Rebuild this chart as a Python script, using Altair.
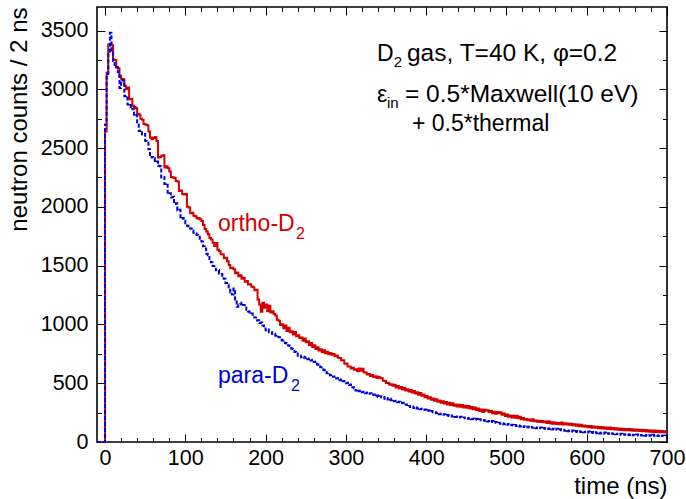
import altair as alt
import pandas as pd

# ---- data: neutron counts per 2 ns bin, bins starting at 0, 2, ..., 698 ns ----
bin_starts = list(range(0, 700, 2))

ortho_counts = [
    2640, 3140, 3380, 3385, 3375, 3254, 3250, 3190, 3180, 3115,
    3090, 3085, 3030, 3000, 3015, 2915, 2920, 2860, 2850, 2840,
    2790, 2785, 2750, 2740, 2705, 2700, 2695, 2640, 2590, 2575,
    2585, 2595, 2560, 2420, 2425, 2435, 2440, 2335, 2345, 2330,
    2300, 2255, 2250, 2245, 2220, 2215, 2135, 2140, 2110, 2105,
    2110, 2000, 1995, 1945, 1950, 1925, 1920, 1900, 1905, 1895,
    1880, 1845, 1812, 1790, 1768, 1735, 1722, 1695, 1668, 1692,
    1636, 1622, 1598, 1595, 1562, 1568, 1538, 1505, 1478, 1482,
    1470, 1436, 1442, 1410, 1418, 1388, 1398, 1362, 1370, 1340,
    1342, 1322, 1316, 1290, 1296, 1212, 1170, 1108, 1185, 1142,
    1170, 1112, 1158, 1102, 1112, 1088, 1076, 1040, 1032, 995,
    1002, 968, 990, 945, 972, 934, 942, 914, 936, 900,
    908, 884, 888, 862, 880, 848, 858, 822, 842, 808,
    822, 790, 806, 778, 788, 764, 780, 754, 768, 746,
    758, 742, 748, 730, 736, 716, 714, 696, 696, 666,
    668, 642, 642, 626, 632, 614, 618, 602, 626, 606,
    622, 594, 592, 574, 578, 561, 569, 552, 559, 544,
    556, 546, 543, 520, 519, 501, 504, 488, 492, 478,
    487, 464, 476, 456, 468, 447, 461, 438, 448, 430,
    443, 422, 433, 412, 423, 402, 416, 393, 403, 381,
    391, 370, 381, 360, 371, 350, 364, 342, 354, 334,
    346, 328, 340, 320, 334, 314, 329, 308, 320, 302,
    317, 299, 314, 294, 309, 292, 307, 286, 298, 279,
    293, 272, 284, 264, 276, 256, 275, 265, 270, 255,
    264, 244, 258, 240, 255, 245, 253, 232, 243, 222,
    234, 214, 226, 208, 224, 206, 224, 202, 214, 194,
    205, 190, 196, 184, 191, 180, 194, 176, 183, 172,
    181, 170, 179, 168, 174, 162, 176, 158, 168, 156,
    166, 154, 162, 151, 165, 148, 160, 149, 158, 146,
    155, 143, 151, 138, 148, 134, 146, 131, 141, 129,
    137, 126, 136, 122, 131, 121, 130, 117, 128, 115,
    125, 113, 123, 111, 124, 108, 119, 107, 117, 104,
    114, 102, 113, 101, 111, 99, 110, 97, 109, 96,
    107, 95, 105, 93, 104, 91, 102, 89, 100, 88,
    98, 86, 97, 84, 96, 83, 94, 82, 92, 80,
]

para_counts = [
    2700, 3130, 3300, 3480, 3330, 3240, 3185, 3190, 3145, 3010,
    3080, 3075, 2940, 2945, 2870, 2875, 2830, 2835, 2775, 2780,
    2700, 2645, 2650, 2615, 2620, 2560, 2555, 2490, 2420, 2425,
    2415, 2380, 2385, 2350, 2345, 2250, 2255, 2195, 2200, 2110,
    2115, 2080, 2085, 2025, 2030, 1970, 1975, 1900, 1905, 1880,
    1860, 1840, 1830, 1815, 1800, 1780, 1775, 1760, 1745, 1720,
    1705, 1664, 1646, 1602, 1588, 1534, 1528, 1498, 1496, 1460,
    1462, 1432, 1428, 1392, 1388, 1352, 1338, 1294, 1272, 1255,
    1305, 1210, 1150, 1166, 1172, 1185, 1165, 1145, 1114, 1110,
    1090, 1092, 1062, 1060, 1034, 1036, 1012, 1016, 990, 984,
    950, 956, 934, 936, 920, 922, 904, 906, 892, 890,
    864, 862, 842, 838, 820, 816, 794, 790, 766, 762,
    734, 736, 720, 726, 716, 720, 704, 710, 694, 700,
    680, 684, 660, 656, 636, 636, 610, 606, 584, 586,
    568, 570, 554, 558, 540, 545, 526, 533, 516, 518,
    500, 503, 484, 490, 465, 458, 438, 446, 432, 438,
    424, 428, 414, 422, 410, 414, 400, 404, 390, 396,
    383, 390, 378, 382, 368, 374, 362, 370, 355, 359,
    346, 350, 338, 342, 330, 334, 318, 320, 304, 307,
    297, 303, 290, 296, 285, 289, 278, 282, 272, 276,
    264, 270, 257, 263, 253, 255, 245, 249, 237, 241,
    231, 236, 226, 230, 221, 225, 217, 221, 213, 217,
    208, 214, 205, 209, 201, 205, 197, 201, 193, 197,
    190, 197, 186, 193, 184, 188, 180, 184, 175, 179,
    170, 178, 164, 171, 161, 163, 155, 159, 151, 155,
    146, 154, 143, 147, 140, 144, 136, 140, 132, 136,
    127, 135, 125, 129, 123, 127, 121, 125, 117, 123,
    116, 124, 115, 119, 113, 117, 111, 115, 106, 112,
    104, 113, 103, 108, 100, 105, 96, 101, 92, 97,
    90, 98, 88, 93, 86, 91, 85, 90, 82, 88,
    80, 89, 79, 84, 77, 82, 75, 80, 73, 78,
    71, 80, 70, 75, 69, 74, 67, 72, 65, 70,
    62, 71, 62, 66, 61, 65, 59, 64, 58, 62,
    56, 64, 55, 60, 55, 61, 54, 59, 53, 58,
    53, 61, 52, 57, 51, 56, 50, 55, 49, 54,
]

x_major = list(range(0, 701, 100))
x_minor = list(range(0, 701, 20))
y_major = list(range(0, 3501, 500))
y_minor = list(range(0, 3701, 250))

FONT = "Liberation Sans"
RED = "#d40000"
BLUE = "#0000dd"


def hist_frame(values, name):
    ts = [-10] + bin_starts + [700]
    cs = [0] + values + [values[-1]]
    return pd.DataFrame({"t": ts, "counts": cs, "series": name})


df_o = hist_frame(ortho_counts, "ortho-D2")
df_p = hist_frame(para_counts, "para-D2")

xs = alt.Scale(domain=[-10, 700], nice=False, zero=False)
ys = alt.Scale(domain=[0, 3700], nice=False)

MAJ = 8
MIN = 4.5


def tick_axis(orient, values, size):
    return alt.Axis(orient=orient, values=values, tickSize=size, offset=-size,
                    domain=False, grid=False, labels=False, title=None,
                    tickColor="black", tickWidth=1)


bottom_major = alt.Axis(
    orient="bottom", values=x_major, tickSize=MAJ, offset=-MAJ, domain=False,
    grid=False, format="d", labelFont=FONT, labelFontSize=21.5, labelColor="black",
    labelPadding=5, labelFlush=False, tickColor="black", tickWidth=1,
    title="time (ns)", titleFont=FONT, titleFontSize=24, titleFontWeight="normal",
    titleColor="black", titleAnchor="end", titlePadding=6)

left_major = alt.Axis(
    orient="left", values=y_major, tickSize=MAJ, offset=-MAJ, domain=False,
    grid=False, format="d", labelFont=FONT, labelFontSize=21.5, labelColor="black",
    labelPadding=9, labelFlush=False, tickColor="black", tickWidth=1,
    title="neutron counts / 2 ns", titleFont=FONT, titleFontSize=24,
    titleFontWeight="normal", titleColor="black", titleAnchor="end", titlePadding=9)

red_line = alt.Chart(df_o).mark_line(
    interpolate="step-after", color=RED, strokeWidth=2).encode(
    x=alt.X("t:Q", scale=xs, axis=bottom_major),
    y=alt.Y("counts:Q", scale=ys, axis=left_major))

blue_line = alt.Chart(df_p).mark_line(
    interpolate="step-after", color=BLUE, strokeWidth=2, strokeDash=[4, 2]).encode(
    x=alt.X("t:Q", scale=xs, axis=None),
    y=alt.Y("counts:Q", scale=ys, axis=None))


def ghost(xaxis, yaxis):
    return alt.Chart(df_o).mark_point(opacity=0).encode(
        x=alt.X("t:Q", scale=xs, axis=xaxis),
        y=alt.Y("counts:Q", scale=ys, axis=yaxis))


minor_bl = ghost(tick_axis("bottom", x_minor, MIN), tick_axis("left", y_minor, MIN))
major_tr = ghost(tick_axis("top", x_major, MAJ), tick_axis("right", y_major, MAJ))
minor_tr = ghost(tick_axis("top", x_minor, MIN), tick_axis("right", y_minor, MIN))


def text_layer(rows, size, color):
    df = pd.DataFrame(rows, columns=["t", "c", "label"])
    return alt.Chart(df).mark_text(
        align="left", baseline="alphabetic", font=FONT, fontSize=size,
        color=color).encode(
        x=alt.X("t:Q", scale=xs, axis=None),
        y=alt.Y("c:Q", scale=ys, axis=None),
        text="label:N")


big_txt = text_layer([
    (376.1, 3237, "gas, T=40 K, φ=0.2"),
    (373.6, 2896, "= 0.5*Maxwell(10 eV)"),
], 24.5, "black")
main_txt = text_layer([
    (338.7, 3237, "D"),
    (338.7, 2896, "ε"),
    (382.3, 2649, "+ 0.5*thermal"),
], 23, "black")
sub_txt = text_layer([
    (359.5, 3186, "2"),
    (351.2, 2845, "in"),
], 15, "black")
ortho_txt = text_layer([(140.7, 1797, "ortho-D")], 23, RED)
ortho_sub = text_layer([(237.9, 1729, "2")], 16, RED)
para_txt = text_layer([(140.7, 498, "para-D")], 23, BLUE)
para_sub = text_layer([(231.6, 430, "2")], 16, BLUE)

chart = alt.layer(
    red_line, blue_line, minor_bl, major_tr, minor_tr,
    big_txt, main_txt, sub_txt, ortho_txt, ortho_sub, para_txt, para_sub,
).resolve_axis(x="independent", y="independent").properties(
    width=570, height=435,
    padding={"left": 97, "top": 7, "right": 19, "bottom": 57},
    autosize=alt.AutoSizeParams(type="none"),
    background="white",
).configure_view(stroke="black", strokeWidth=1.6)

chart.save("out.html", embed_options={"renderer": "svg", "actions": False})
